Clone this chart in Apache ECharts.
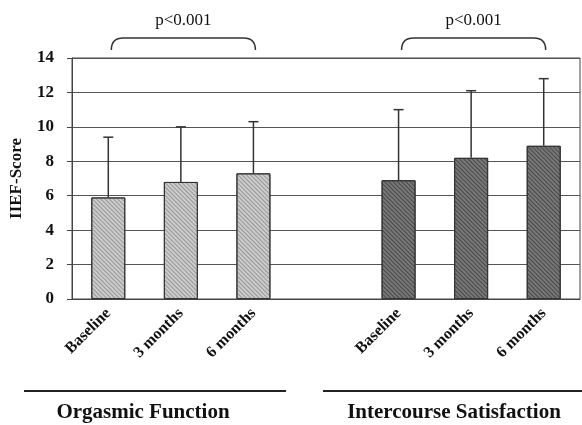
<!DOCTYPE html>
<html>
<head>
<meta charset="utf-8">
<script src="https://cdn.jsdelivr.net/npm/echarts@6/dist/echarts.min.js"></script>
<style>html,body{margin:0;padding:0;background:#fff}#c{width:582px;height:425px}</style>
</head>
<body>
<div id="c"></div>
<script>
var categories = ['Baseline', '3 months', '6 months', '', 'Baseline', '3 months', '6 months'];
var orgasmicMeans = [5.9, 6.8, 7.3];
var orgasmicUpper = [9.4, 10.0, 10.3];
var intercourseMeans = [6.9, 8.2, 8.9];
var intercourseUpper = [11.0, 12.1, 12.8];
var yTicks = [0, 2, 4, 6, 8, 10, 12, 14];
var groupNames = ['Orgasmic Function', 'Intercourse Satisfaction'];
var pLabels = ['p<0.001', 'p<0.001'];
var bracketSpans = [[0, 2], [4, 6]];

var FONT = '"Liberation Serif", "Times New Roman", serif';

var orgData = categories.map(function (c, i) { return i < 3 ? orgasmicMeans[i] : '-'; });
var intData = categories.map(function (c, i) { return i > 3 ? intercourseMeans[i - 4] : '-'; });
var errData = [];
orgasmicMeans.forEach(function (m, i) { errData.push([i, m, orgasmicUpper[i]]); });
intercourseMeans.forEach(function (m, i) { errData.push([i + 4, m, intercourseUpper[i]]); });
var bracketData = bracketSpans.map(function (s, i) { return [s[0], s[1], i]; });

var chart = echarts.init(document.getElementById('c'));
chart.setOption({
  animation: false,
  grid: { left: 72, right: 2, top: 58, bottom: 126, show: true, borderColor: '#444', borderWidth: 1 },
  xAxis: {
    type: 'category',
    data: categories,
    axisLine: { lineStyle: { color: '#444', width: 1 } },
    axisTick: { show: false },
    axisLabel: { rotate: 45, interval: 0, margin: 12, fontFamily: FONT, fontWeight: 'bold', fontSize: 16, color: '#111' }
  },
  yAxis: {
    type: 'value',
    min: yTicks[0], max: yTicks[yTicks.length - 1], interval: 2,
    name: 'IIEF-Score', nameLocation: 'middle', nameGap: 47,
    nameTextStyle: { fontFamily: FONT, fontWeight: 'bold', fontSize: 17, color: '#111' },
    axisLine: { show: true, lineStyle: { color: '#444', width: 1 } },
    axisTick: { show: true, inside: false, length: 5, lineStyle: { color: '#444' } },
    splitLine: { lineStyle: { color: '#555', width: 1.2 } },
    axisLabel: { margin: 18, fontFamily: FONT, fontWeight: 'bold', fontSize: 17, color: '#111' }
  },
  series: [
    {
      type: 'bar', data: orgData, barWidth: 34, barGap: '-100%',
      itemStyle: {
        color: '#cbcbcb', borderColor: '#333', borderWidth: 1,
        decal: { symbol: 'rect', symbolSize: 1, dashArrayX: [1, 0], dashArrayY: [1, 2], rotation: Math.PI / 4, color: 'rgba(90,90,90,0.45)' }
      }
    },
    {
      type: 'bar', data: intData, barWidth: 34, barGap: '-100%',
      itemStyle: {
        color: '#777777', borderColor: '#333', borderWidth: 1,
        decal: { symbol: 'rect', symbolSize: 1, dashArrayX: [1, 0], dashArrayY: [1, 2], rotation: Math.PI / 4, color: 'rgba(30,30,30,0.5)' }
      }
    },
    {
      type: 'custom', data: errData, z: 5,
      renderItem: function (params, api) {
        var x = api.value(0);
        var p0 = api.coord([x, api.value(1)]);
        var p1 = api.coord([x, api.value(2)]);
        var st = { stroke: '#333', lineWidth: 1.5 };
        return { type: 'group', children: [
          { type: 'line', shape: { x1: p0[0], y1: p0[1], x2: p1[0], y2: p1[1] }, style: st },
          { type: 'line', shape: { x1: p1[0] - 5, y1: p1[1], x2: p1[0] + 5, y2: p1[1] }, style: st }
        ] };
      }
    },
    {
      type: 'custom', data: bracketData, clip: false, z: 5,
      renderItem: function (params, api) {
        var a = api.coord([api.value(0), 14]);
        var b = api.coord([api.value(1), 14]);
        var x1 = a[0] + 3, x2 = b[0] + 2;
        var yTop = a[1] - 20, yBot = a[1] - 8;
        var r = 12;
        var d = 'M' + x1 + ' ' + yBot + ' Q' + x1 + ' ' + yTop + ' ' + (x1 + r) + ' ' + yTop +
                ' L' + (x2 - r) + ' ' + yTop + ' Q' + x2 + ' ' + yTop + ' ' + x2 + ' ' + yBot;
        return { type: 'group', children: [
          { type: 'path', shape: { pathData: d }, style: { stroke: '#333', lineWidth: 1.5, fill: null } },
          { type: 'text', x: (x1 + x2) / 2, y: yTop - 17, style: { text: pLabels[api.value(2)], font: '17px ' + FONT, fill: '#111', align: 'center', verticalAlign: 'middle' } }
        ] };
      }
    }
  ],
  graphic: [
    { type: 'line', shape: { x1: 24, y1: 391, x2: 286, y2: 391 }, style: { stroke: '#222', lineWidth: 2 } },
    { type: 'line', shape: { x1: 323, y1: 391, x2: 582, y2: 391 }, style: { stroke: '#222', lineWidth: 2 } },
    { type: 'text', x: 143, y: 413, style: { text: groupNames[0], font: 'bold 21px ' + FONT, fill: '#111', align: 'center', verticalAlign: 'middle' } },
    { type: 'text', x: 454, y: 413, style: { text: groupNames[1], font: 'bold 21px ' + FONT, fill: '#111', align: 'center', verticalAlign: 'middle' } }
  ]
});
</script>
</body>
</html>
